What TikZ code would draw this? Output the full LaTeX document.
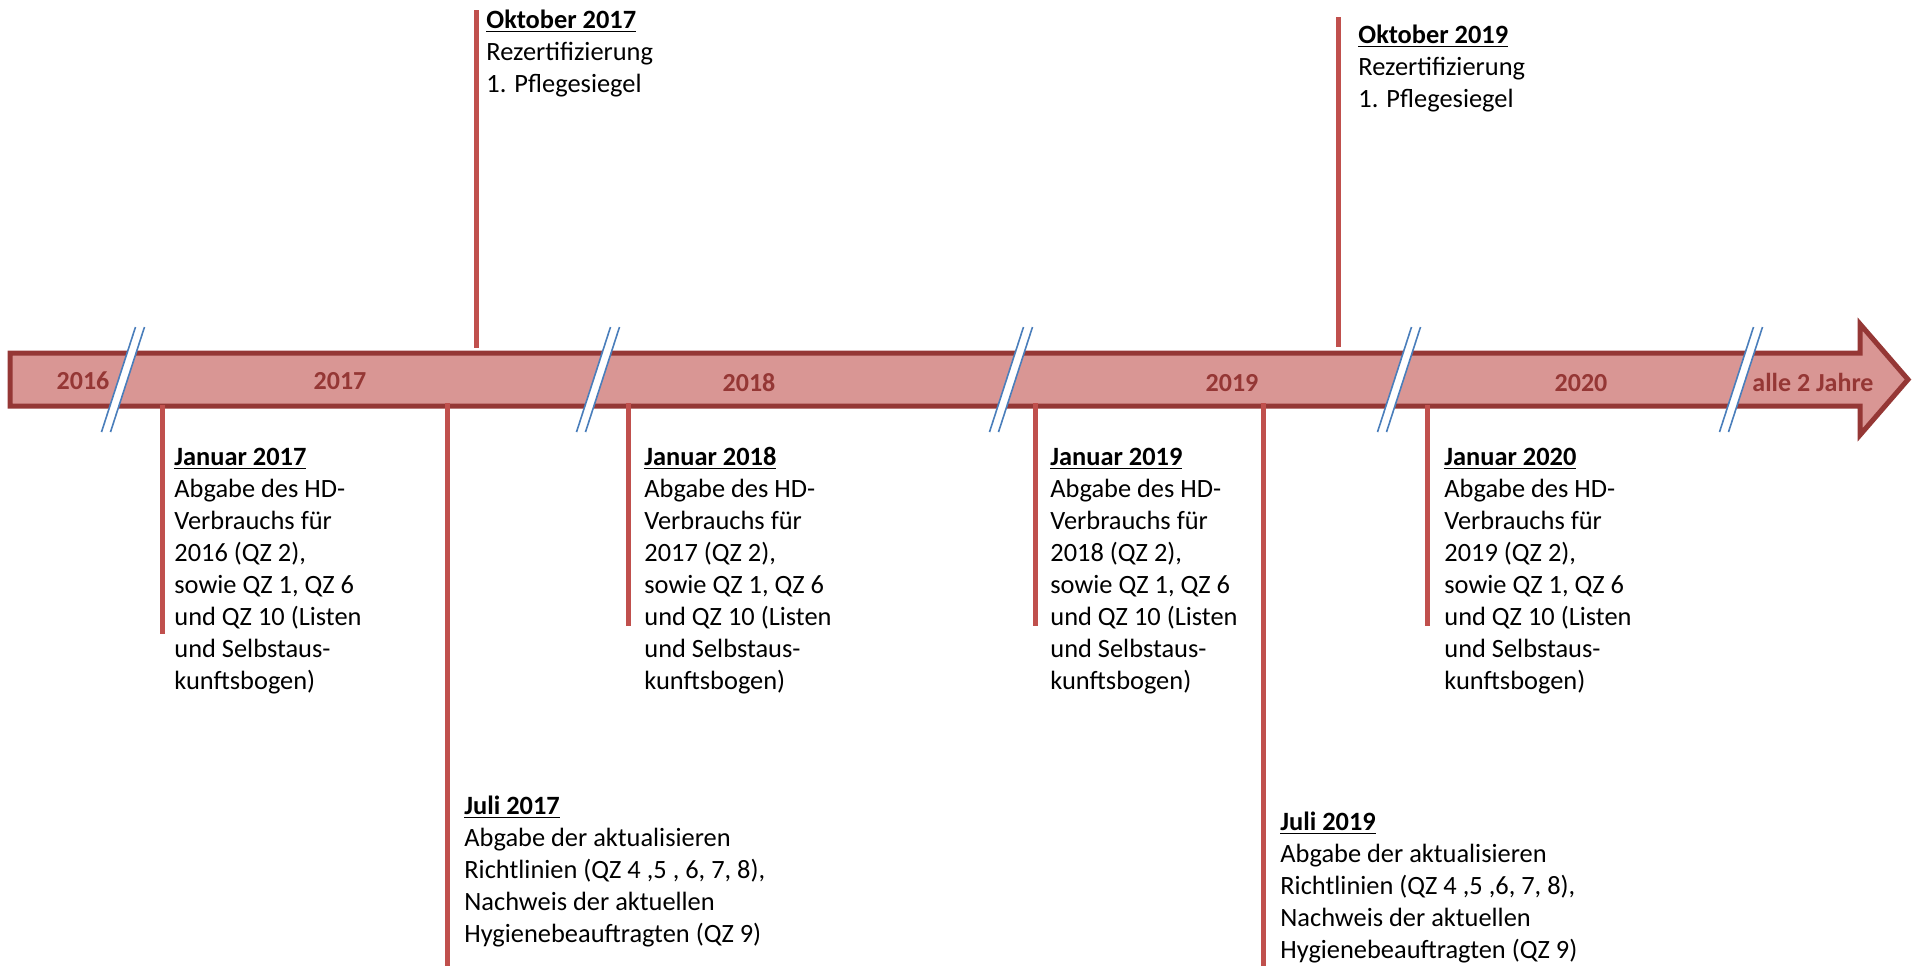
\documentclass[tikz,border=0pt]{standalone}
\usepackage{fontspec}
\setmainfont{Carlito}
\definecolor{arrfill}{HTML}{D99694}
\definecolor{arrdraw}{HTML}{953735}
\definecolor{evred}{HTML}{C0504D}
\definecolor{brkblue}{HTML}{4A7EBB}
\newcommand\jantxt[2]{\begin{tabular}[t]{@{}l@{}}\textbf{\underline{Januar #1}}\\Abgabe des HD-\\Verbrauchs für\\#2 (QZ 2),\\sowie QZ 1, QZ 6\\und QZ 10 (Listen\\und Selbstaus-\\kunftsbogen)\end{tabular}}
\newcommand\julitxt[2]{\begin{tabular}[t]{@{}l@{}}\textbf{\underline{Juli #1}}\\Abgabe der aktualisieren\\Richtlinien (QZ 4 ,5 #2, 7, 8),\\Nachweis der aktuellen\\Hygienebeauftragten (QZ 9)\end{tabular}}
\newcommand\okttxt[1]{\begin{tabular}[t]{@{}l@{}}\textbf{\underline{Oktober #1}}\\Rezertifizierung\\1. Pflegesiegel\end{tabular}}
\begin{document}
\begin{tikzpicture}[x=0.5pt,y=-0.5pt,
  evline/.style={draw=evred,line width=2.5pt},
  evtext/.style={anchor=base west,inner sep=0pt,font=\fontsize{13.2pt}{16pt}\selectfont},
  yearlbl/.style={anchor=base,inner sep=0pt,text=arrdraw,font=\fontsize{13pt}{16pt}\selectfont\bfseries},
  brkline/.style={draw=brkblue,line width=0.8pt}]
\useasboundingbox (0,0) rectangle (1913,966);
% main arrow
\draw[fill=arrfill,draw=arrdraw,line width=2.5pt,line join=miter]
  (10,353) -- (1860,353) -- (1860,324) -- (1908,379.5) -- (1860,435) -- (1860,406) -- (10,406) -- cycle;
% break marks
\foreach \cx in {123,598,1011,1399,1741}{
  \fill[white] (\cx+17-4.5,327) -- (\cx+17+4.5,327) -- (\cx-17+4.5,432) -- (\cx-17-4.5,432) -- cycle;
  \draw[brkline] (\cx+17-4.5,327) -- (\cx-17-4.5,432);
  \draw[brkline] (\cx+17+4.5,327) -- (\cx-17+4.5,432);
}
% year labels
\node[yearlbl] (y16) at (83,389) {2016};
\node[yearlbl] (y17) at (340,389) {2017};
\node[yearlbl] (y18) at (749,391) {2018};
\node[yearlbl] (y19) at (1232,391) {2019};
\node[yearlbl] (y20) at (1581,391) {2020};
\node[yearlbl] (yal) at (1813,391) {alle 2 Jahre};
% event lines
\coordinate (o17a) at (476,10);  \coordinate (o17b) at (476,348);
\coordinate (o19a) at (1338,17); \coordinate (o19b) at (1338,347);
\coordinate (j17a) at (162,405); \coordinate (j17b) at (162,634);
\coordinate (u17a) at (447,403); \coordinate (u17b) at (447,966);
\coordinate (j18a) at (628,403); \coordinate (j18b) at (628,626);
\coordinate (j19a) at (1035,403); \coordinate (j19b) at (1035,626);
\coordinate (u19a) at (1263,403); \coordinate (u19b) at (1263,966);
\coordinate (j20a) at (1427,405); \coordinate (j20b) at (1427,626);
\foreach \p in {o17,o19,j17,u17,j18,j19,u19,j20}{\draw[evline] (\p a) -- (\p b);}
% event texts
\node[evtext] (to17) at (486,28) {\okttxt{2017}};
\node[evtext] (to19) at (1358,43) {\okttxt{2019}};
\node[evtext] (tj17) at (174,465) {\jantxt{2017}{2016}};
\node[evtext] (tj18) at (644,465) {\jantxt{2018}{2017}};
\node[evtext] (tj19) at (1050,465) {\jantxt{2019}{2018}};
\node[evtext] (tj20) at (1444,465) {\jantxt{2020}{2019}};
\node[evtext] (tu17) at (464,814) {\julitxt{2017}{, 6}};
\node[evtext] (tu19) at (1280,830) {\julitxt{2019}{,6}};
\end{tikzpicture}
\end{document}
